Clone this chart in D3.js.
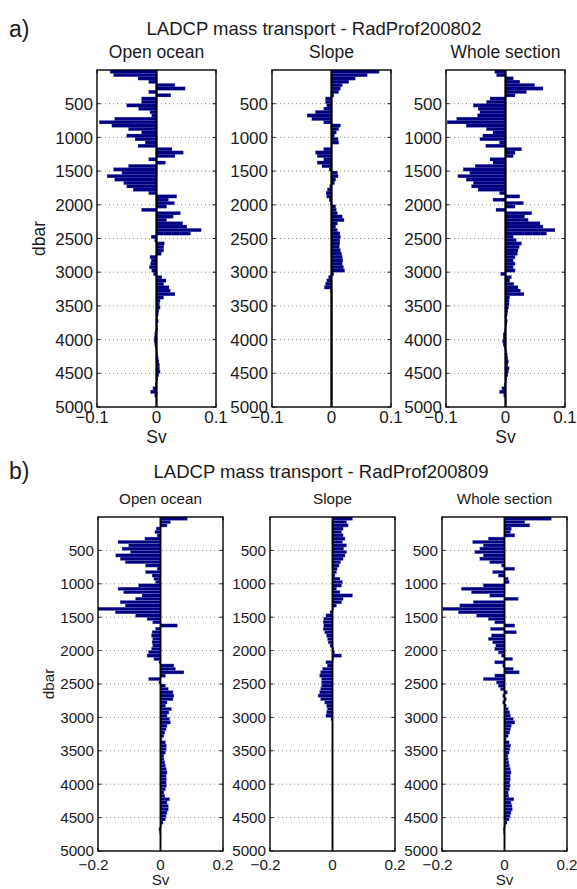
<!DOCTYPE html>
<html>
<head>
<meta charset="utf-8">
<script src="https://cdn.jsdelivr.net/npm/d3@7"></script>
<style>
  body { margin: 0; background: #fff; }
  svg { display: block; }
  text { font-family: "Liberation Sans", Arial, Helvetica, sans-serif; fill: #1a1a1a; }
</style>
</head>
<body>
<svg id="chart"></svg>
<script>
/*
 * Data: transport per 50 dbar pressure bin (Sv)
 */
const BIN = 50;
const pressureBins = d3.range(0, 5000, BIN);   // top of each bin, dbar
const pressureTicks = [500, 1000, 1500, 2000, 2500, 3000, 3500, 4000, 4500, 5000];
const panelNames = ["Open ocean", "Slope", "Whole section"];
const titles = ["LADCP mass transport - RadProf200802", "LADCP mass transport - RadProf200809"];
const rowLetters = ["a)", "b)"];
const xTicksA = [-0.1, 0, 0.1];
const xTicksB = [-0.2, 0, 0.2];

const openA = [
  -0.078, -0.072, -0.031, -0.013, 0.031, 0.048, -0.013, 0.024, -0.025, -0.025,
  -0.05, -0.03, -0.011, -0.008, -0.07, -0.096, -0.075, -0.047, -0.025, -0.05,
  -0.036, -0.019, -0.031, 0.026, 0.045, 0.031, -0.013, 0.015, -0.047, -0.072,
  -0.058, -0.083, -0.07, -0.055, -0.05, -0.039, -0.013, 0.034, 0.02, 0.03,
  0.017, -0.025, 0.04, 0.028, 0.017, 0.044, 0.051, 0.075, 0.057, -0.009,
  -0.003, 0.013, 0.012, 0.012, 0.008, -0.011, -0.009, -0.01, -0.012, -0.008,
  -0.005, 0.009, 0.016, 0.012, 0.021, 0.023, 0.031, 0.012, 0.006, 0.005,
  0.006, 0.004, 0.003, 0.002, 0.003, 0.001, 0.002, -0.002, -0.003, -0.004,
  -0.004, -0.003, -0.002, 0.001, 0.002, 0.003, 0.004, 0.005, 0.005, 0.006,
  0.004, 0.002, 0.001, -0.002, -0.006, -0.01, -0.003, 0, 0, 0
];
const slopeA = [
  0.08, 0.06, 0.04, 0.029, 0.018, 0.015, 0.012, 0.004, -0.01, -0.01,
  -0.008, -0.013, -0.027, -0.041, -0.033, -0.013, 0.015, 0.012, 0.008, 0.005,
  0.011, 0.012, 0.001, -0.013, -0.027, -0.024, -0.013, -0.024, -0.016, -0.004,
  0.01, 0.011, 0.007, 0.005, -0.003, -0.007, -0.009, -0.008, -0.004, -0.002,
  0.007, 0.008, 0.01, 0.018, 0.021, 0.01, 0.007, 0.01, 0.014, 0.015,
  0.014, 0.014, 0.013, 0.015, 0.017, 0.018, 0.019, 0.018, 0.02, 0.022,
  0.004, -0.005, -0.008, -0.01, -0.012, -0.002, 0.001, 0.001, 0.001, 0.001,
  0.001, 0.001, 0.001, 0.001, 0.001, 0.001, 0.001, 0.001, 0.001, 0.001,
  0.001, 0.001, 0.001, 0.001, 0.001, 0.001, 0.001, 0.001, 0.001, 0.001,
  0.001, 0.001, 0.001, 0.001, 0.001, 0.001, 0.001, 0.001, 0.001, 0.001
];
const wholeA = [
  -0.018, -0.015, 0.013, 0.024, 0.049, 0.063, 0.035, 0.016, -0.026, -0.032,
  -0.054, -0.046, -0.043, -0.047, -0.082, -0.098, -0.066, -0.032, -0.021, -0.038,
  -0.043, -0.01, -0.033, 0.027, 0.016, 0.013, -0.026, -0.021, -0.051, -0.071,
  -0.06, -0.08, -0.066, -0.054, -0.057, -0.046, -0.01, 0.024, -0.021, 0.03,
  0.016, -0.016, 0.044, 0.032, 0.038, 0.058, 0.063, 0.083, 0.069, 0.013,
  0.018, 0.027, 0.023, 0.021, 0.02, 0.016, 0.013, 0.016, 0.013, 0.016,
  -0.008, 0.01, 0.007, 0.014, 0.021, 0.025, 0.031, 0.007, 0.006, 0.006,
  0.005, 0.004, 0.003, 0.002, 0.003, 0.002, 0.001, -0.002, -0.004, -0.004,
  -0.005, -0.004, -0.002, 0.002, 0.003, 0.004, 0.005, 0.004, 0.006, 0.005,
  0.004, 0.002, 0.001, -0.002, -0.006, -0.01, -0.003, 0.001, 0.001, 0.001
];
const openB = [
  0.086, 0.032, 0.021, -0.014, -0.018, -0.011, -0.05, -0.136, -0.102, -0.123,
  -0.096, -0.143, -0.129, -0.113, -0.048, -0.011, -0.048, -0.027, -0.021, -0.016,
  -0.07, -0.136, -0.118, -0.059, -0.08, -0.129, -0.113, -0.2, -0.145, -0.08,
  -0.043, -0.025, 0.054, -0.016, -0.027, -0.029, -0.025, -0.027, -0.025, -0.029,
  -0.038, -0.043, -0.021, -0.005, 0.043, 0.048, 0.075, 0.016, -0.038, -0.005,
  0.016, 0.025, 0.04, 0.043, 0.04, 0.021, 0.016, 0.035, 0.027, 0.021,
  0.029, 0.032, 0.021, 0.018, 0.014, 0.011, 0.005, 0.016, 0.019, 0.018,
  0.016, 0.011, 0.011, 0.014, 0.016, 0.019, 0.021, 0.018, 0.019, 0.018,
  0.019, 0.016, 0.011, 0.014, 0.029, 0.021, 0.025, 0.025, 0.021, 0.018,
  0.016, 0.008, 0.003, -0.005, -0.003, 0.001, 0, 0, 0, 0
];
const slopeB = [
  0.064, 0.045, 0.05, 0.034, 0.029, 0.034, 0.04, 0.032, 0.045, 0.036,
  0.045, 0.04, 0.034, 0.026, 0.021, 0.015, 0.013, 0.008, 0.024, 0.032,
  0.029, 0.013, 0.024, 0.064, 0.034, 0.029, 0.013, 0.004, -0.008, -0.021,
  -0.028, -0.03, -0.028, -0.03, -0.025, -0.019, -0.016, -0.014, -0.008, 0.004,
  0.007, 0.029, 0.004, -0.021, -0.017, -0.032, -0.038, -0.041, -0.035, -0.035,
  -0.035, -0.038, -0.041, -0.046, -0.038, -0.025, -0.019, -0.017, -0.019, -0.021,
  -0.005, 0.001, 0.001, 0.001, 0.001, 0.001, 0.001, 0.001, 0.001, 0.001,
  0.001, 0.001, 0.001, 0.001, 0.001, 0.001, 0.001, 0.001, 0.001, 0.001,
  0.001, 0.001, 0.001, 0.001, 0.001, 0.001, 0.001, 0.001, 0.001, 0.001,
  0.001, 0.001, 0.001, 0.001, 0.001, 0.001, 0, 0, 0, 0
];
const wholeB = [
  0.15, 0.065, 0.081, 0.022, 0.019, 0.033, -0.052, -0.102, -0.068, -0.079,
  -0.095, -0.068, -0.079, -0.047, -0.01, 0.033, -0.038, -0.02, 0.012, 0.015,
  -0.068, -0.138, -0.106, -0.047, 0.044, -0.1, -0.143, -0.198, -0.148, -0.09,
  -0.052, -0.031, 0.033, -0.045, 0.038, -0.042, -0.052, -0.038, -0.028, -0.031,
  -0.02, -0.01, 0.026, -0.031, -0.006, 0.028, 0.047, -0.031, -0.068, -0.026,
  -0.02, -0.013, 0.009, -0.006, 0.006, -0.006, 0.006, 0.012, 0.017, 0.019,
  0.028, 0.033, 0.022, 0.019, 0.017, 0.012, 0.006, 0.015, 0.02, 0.017,
  0.015, 0.011, 0.012, 0.014, 0.016, 0.019, 0.021, 0.018, 0.019, 0.017,
  0.018, 0.016, 0.012, 0.014, 0.03, 0.021, 0.024, 0.025, 0.021, 0.018,
  0.015, 0.008, 0.003, -0.004, -0.003, 0.001, 0, 0, 0, 0
];

/*
 * Layout constants
 */
const W = 577, H = 889;
const BAR_FILL = "#000080";

const rows = [
  {
    letter: rowLetters[0], title: titles[0], titleX: 314, titleY: 35, letterY: 37,
    top: 70, bottom: 407, lefts: [97, 272, 446], width: 119,
    subY: 58, font: 17, subFont: 17.5, xLabelY: 423, svY: 443, dbarX: 38.5,
    zeroW: 2.3, xTicks: xTicksA, series: [openA, slopeA, wholeA],
    edge: "#3c3cb0", edgeW: 0.25
  },
  {
    letter: rowLetters[1], title: titles[1], titleX: 321, titleY: 478, letterY: 479,
    top: 517, bottom: 851, lefts: [98, 270, 442], width: 125,
    subY: 504, font: 15.2, subFont: 15.2, xLabelY: 870, svY: 885, dbarX: 49,
    zeroW: 1.9, xTicks: xTicksB, series: [openB, slopeB, wholeB],
    edge: "#7b7bd0", edgeW: 0.35
  }
];

const svg = d3.select("#chart").attr("width", W).attr("height", H);
svg.append("rect").attr("width", W).attr("height", H).attr("fill", "#fff");

function drawPanel(row, k) {
  const left = row.lefts[k];
  const right = left + row.width;
  const values = row.series[k];
  const xExt = d3.extent(row.xTicks);

  const x = d3.scaleLinear().domain(xExt).range([left, right]);
  const y = d3.scaleLinear().domain([0, 5000]).range([row.top, row.bottom]);
  const g = svg.append("g");

  // dotted grid at pressure ticks
  g.selectAll("line.grid")
    .data(pressureTicks.filter(p => p < 5000))
    .join("line")
    .attr("x1", left).attr("x2", right)
    .attr("y1", d => y(d)).attr("y2", d => y(d))
    .attr("stroke", "#8a8a8a")
    .attr("stroke-width", 1)
    .attr("stroke-dasharray", "1,3");

  // bars
  g.selectAll("rect.bar")
    .data(pressureBins.map((p, i) => ({ p: p, v: values[i] })).filter(d => d.v !== 0))
    .join("rect")
    .attr("x", d => Math.min(x(0), x(d.v)))
    .attr("width", d => Math.abs(x(d.v) - x(0)))
    .attr("y", d => y(d.p))
    .attr("height", d => y(d.p + BIN) - y(d.p))
    .attr("fill", BAR_FILL)
    .attr("stroke", row.edge)
    .attr("stroke-width", row.edgeW);

  // zero line
  g.append("line")
    .attr("x1", x(0)).attr("x2", x(0))
    .attr("y1", y(0)).attr("y2", y(5000))
    .attr("stroke", "#000")
    .attr("stroke-width", row.zeroW);

  // inner tick marks (left/right for pressure, top/bottom for transport)
  const tl = 3.5;
  pressureTicks.forEach(p => {
    g.append("line").attr("x1", left).attr("x2", left + tl)
      .attr("y1", y(p)).attr("y2", y(p)).attr("stroke", "#222");
    g.append("line").attr("x1", right - tl).attr("x2", right)
      .attr("y1", y(p)).attr("y2", y(p)).attr("stroke", "#222");
  });
  row.xTicks.forEach(t => {
    g.append("line").attr("x1", x(t)).attr("x2", x(t))
      .attr("y1", row.bottom).attr("y2", row.bottom - tl).attr("stroke", "#222");
    g.append("line").attr("x1", x(t)).attr("x2", x(t))
      .attr("y1", row.top).attr("y2", row.top + tl).attr("stroke", "#222");
  });

  // frame
  g.append("rect")
    .attr("x", left).attr("y", row.top)
    .attr("width", row.width).attr("height", row.bottom - row.top)
    .attr("fill", "none")
    .attr("stroke", "#000")
    .attr("stroke-width", 1.4);

  // pressure tick labels
  g.selectAll("text.ylab")
    .data(pressureTicks)
    .join("text")
    .attr("x", left - 4)
    .attr("y", d => y(d))
    .attr("dy", "0.36em")
    .attr("text-anchor", "end")
    .attr("font-size", row.font)
    .text(d => d);

  // transport tick labels: number centred on tick, minus sign hangs to the left
  row.xTicks.forEach(t => {
    const num = g.append("text")
      .attr("x", x(t))
      .attr("y", row.xLabelY)
      .attr("text-anchor", "middle")
      .attr("font-size", row.font)
      .text(d3.format("")(Math.abs(t)));
    if (t < 0) {
      const w = num.node().getComputedTextLength();
      g.append("text")
        .attr("x", x(t) - w / 2)
        .attr("y", row.xLabelY)
        .attr("text-anchor", "end")
        .attr("font-size", row.font)
        .text("\u2212");
    }
  });

  // panel subtitle
  g.append("text")
    .attr("x", (left + right) / 2)
    .attr("y", row.subY)
    .attr("text-anchor", "middle")
    .attr("font-size", row.subFont)
    .text(panelNames[k]);

  // x label under first and third panel
  if (k !== 1) {
    g.append("text")
      .attr("x", x(0))
      .attr("y", row.svY)
      .attr("text-anchor", "middle")
      .attr("font-size", row.subFont)
      .text("Sv");
  }
}

rows.forEach(row => {
  svg.append("text")
    .attr("x", 9).attr("y", row.letterY)
    .attr("font-size", 23)
    .text(row.letter);

  svg.append("text")
    .attr("x", row.titleX).attr("y", row.titleY)
    .attr("text-anchor", "middle")
    .attr("font-size", 18.5)
    .text(row.title);

  const cy = (row.top + row.bottom) / 2;
  svg.append("text")
    .attr("transform", `translate(${row.dbarX},${cy}) rotate(-90)`)
    .attr("text-anchor", "middle")
    .attr("dy", "0.35em")
    .attr("font-size", row.subFont)
    .text("dbar");

  [0, 1, 2].forEach(k => drawPanel(row, k));
});
</script>
</body>
</html>
